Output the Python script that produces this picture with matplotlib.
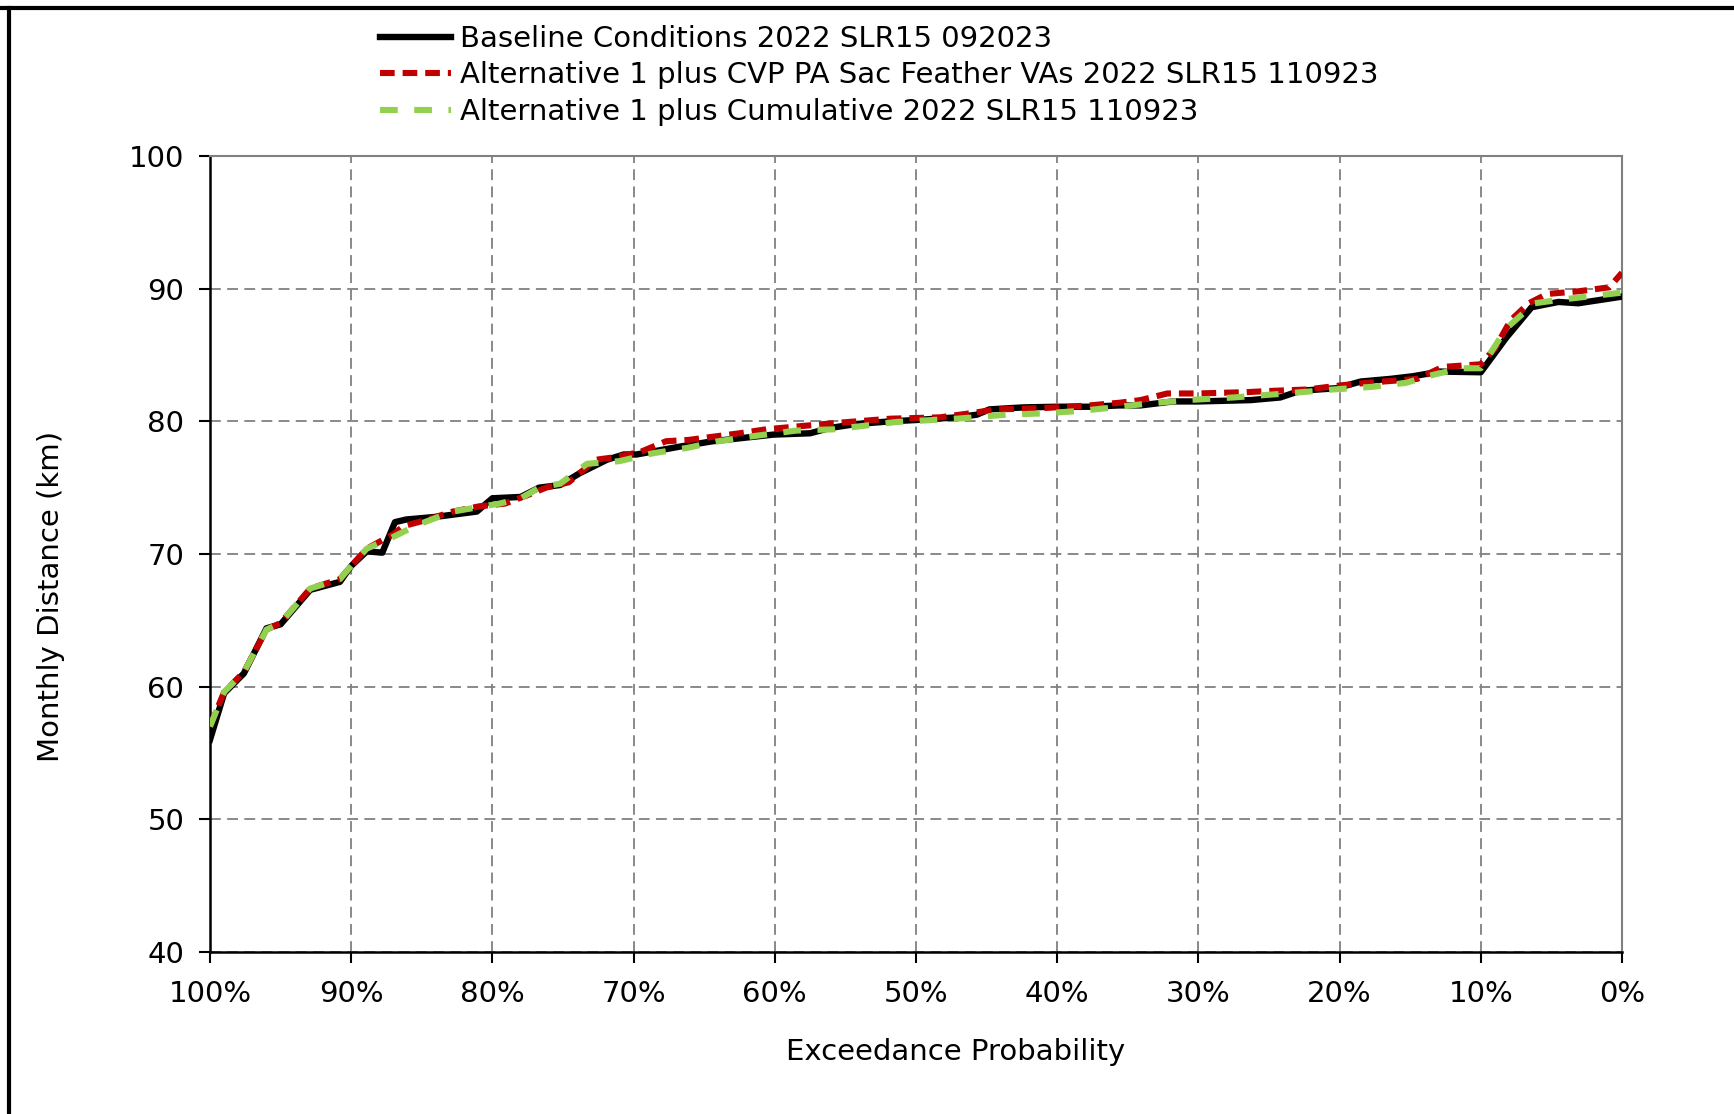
import matplotlib
matplotlib.use('Agg')
import matplotlib.pyplot as plt
from matplotlib.lines import Line2D

# exceedance probability (%) and monthly distance (km)
prob_base = [100, 99, 97.6, 96, 95, 92.9, 90.8, 90, 88.9, 87.8, 86.9, 86.1, 84, 81.1, 80, 78,
             76.7, 75.2, 73.8, 71.9, 70.7, 69.8, 66.7, 64.4, 60.1, 57.5, 56.1, 54.2, 51.8, 50,
             47.1, 45.7, 44.8, 42.4, 40, 37.7, 35.6, 34.1, 31.8, 30, 26.3, 24.2, 22.8, 20.2,
             18.5, 16.4, 14.8, 12.9, 10, 8.2, 6.4, 4.5, 3.1, 0]
dist_base = [56.0, 59.5, 61.0, 64.4, 64.7, 67.3, 67.9, 69.1, 70.2, 70.1, 72.4, 72.6, 72.8, 73.2,
             74.2, 74.3, 75.0, 75.2, 76.1, 77.1, 77.5, 77.5, 78.1, 78.5, 79.0, 79.1, 79.5, 79.8,
             80.0, 80.1, 80.3, 80.5, 80.9, 81.05, 81.1, 81.1, 81.2, 81.2, 81.5, 81.5, 81.6, 81.8,
             82.3, 82.5, 83.0, 83.2, 83.4, 83.75, 83.7, 86.3, 88.6, 89.0, 88.9, 89.4]

prob_alt1 = [100, 99, 97.6, 96, 95, 92.9, 90.8, 90, 88.9, 87, 86.3, 84.9, 82.8, 80.9, 79.1, 77.6,
             76.2, 74.6, 72.7, 71.3, 69.5, 67.7, 66.1, 62.5, 60.6, 57.5, 55.4, 51.8, 48.3, 46.2,
             44.3, 41, 37.7, 35.6, 34.1, 32.2, 30, 26.6, 24.7, 22.3, 20, 18.1, 14.5, 12.7, 10,
             9, 7.9, 6.6, 5.3, 3.1, 0.9, 0]
dist_alt1 = [57.0, 59.6, 61.1, 64.3, 64.8, 67.4, 68.1, 69.1, 70.4, 71.5, 72.1, 72.5, 73.2, 73.6,
             73.8, 74.4, 75.0, 75.4, 77.1, 77.3, 77.7, 78.5, 78.6, 79.1, 79.4, 79.7, 79.9, 80.2,
             80.3, 80.6, 80.9, 81.0, 81.2, 81.4, 81.6, 82.1, 82.1, 82.2, 82.3, 82.4, 82.7, 82.9,
             83.2, 84.1, 84.3, 85.5, 87.6, 88.9, 89.6, 89.8, 90.1, 91.2]

prob_alt2 = [100, 99, 97.6, 96, 95, 92.9, 90.8, 90, 88.9, 87, 85.3, 82.8, 79.5, 78, 76.7, 75.2,
             73.3, 71, 68.6, 66.2, 64, 61.4, 58.5, 55.8, 51.4, 47.1, 43.6, 41, 38.2, 35.6, 33.9,
             30.8, 27.5, 23.8, 20.5, 17.7, 15.3, 13.4, 11.4, 10, 8.2, 6.2, 4.1, 0]
dist_alt2 = [57.0, 59.6, 61.1, 64.3, 64.8, 67.4, 68.1, 69.1, 70.4, 71.3, 72.2, 73.2, 73.8, 74.2,
             75.0, 75.3, 76.8, 77.0, 77.6, 78.0, 78.5, 78.9, 79.3, 79.4, 79.95, 80.2, 80.5, 80.6,
             80.8, 81.1, 81.3, 81.6, 81.8, 82.1, 82.4, 82.6, 82.9, 83.5, 84.0, 84.0, 87.0, 88.9,
             89.2, 89.7]

labels = ['Baseline Conditions 2022 SLR15 092023',
          'Alternative 1 plus CVP PA Sac Feather VAs 2022 SLR15 110923',
          'Alternative 1 plus Cumulative 2022 SLR15 110923']
x_ticks = list(range(0, 101, 10))
y_ticks = list(range(40, 101, 10))

plt.rcParams['font.family'] = ['DejaVu Sans']
fs = 21

fig = plt.figure(figsize=(17.34, 11.14), dpi=100)
ax = fig.add_axes([210/1734, 1-952/1114, 1412/1734, 796/1114])

ax.plot(prob_base, dist_base, color='black', lw=4.6, solid_joinstyle='round', label=labels[0], zorder=3)
ax.plot(prob_alt1, dist_alt1, color='#C00000', lw=4.4, dashes=(2.4, 1.3), label=labels[1], zorder=4)
ax.plot(prob_alt2, dist_alt2, color='#92D050', lw=4.4, dashes=(2.9, 2.7), label=labels[2], zorder=5)

ax.set_xlim(100, 0)
ax.set_ylim(40, 100)
ax.set_xticks(x_ticks)
ax.set_xticklabels([f'{v}%' for v in x_ticks])
ax.set_yticks(y_ticks)
ax.grid(True, color='#808080', linestyle=(0, (6, 3.5)), lw=1.3, zorder=1)
ax.tick_params(axis='both', labelsize=fs, length=8, width=1.5, direction='out')
ax.tick_params(axis='x', pad=12)
ax.tick_params(axis='y', pad=10.5)
for s in ['left', 'bottom']:
    ax.spines[s].set_color('black')
    ax.spines[s].set_linewidth(1.8)
for s in ['top', 'right']:
    ax.spines[s].set_color('#808080')
    ax.spines[s].set_linewidth(1.5)

ax.set_xlabel('Exceedance Probability', fontsize=fs)
ax.xaxis.set_label_coords(0.528, -0.108)
ax.set_ylabel('Monthly Distance (km)', fontsize=fs)
ax.yaxis.set_label_coords(-0.1026, 0.447)

fig.legend(loc='upper left', bbox_to_anchor=(380/1734, 1-25/1114), frameon=False,
           fontsize=fs, handlelength=2.43, handletextpad=0.3, labelspacing=0.29,
           borderaxespad=0, borderpad=0)

# outer border lines (top and left)
fig.add_artist(Line2D([0, 1], [1-7.5/1114, 1-7.5/1114], transform=fig.transFigure, color='black', lw=3))
fig.add_artist(Line2D([9/1734, 9/1734], [0, 1-7.5/1114], transform=fig.transFigure, color='black', lw=3))

fig.savefig('out.png', dpi=100)
plt.close(fig)
